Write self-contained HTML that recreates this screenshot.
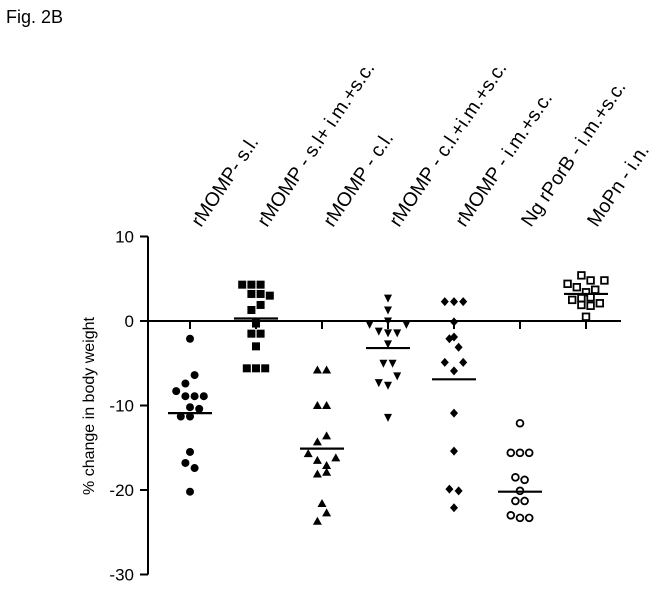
<!DOCTYPE html>
<html><head><meta charset="utf-8"><style>
body{margin:0;background:#fff;font-family:"Liberation Sans",Arial,sans-serif}
svg text{font-family:"Liberation Sans",Arial,sans-serif}
</style></head><body>
<svg id="c" width="665" height="587" xmlns="http://www.w3.org/2000/svg">
<text x="6" y="23" font-size="18">Fig. 2B</text>
</svg>
<script>
const groups=["rMOMP- s.l.","rMOMP - s.l+ i.m.+s.c.","rMOMP - c.l.","rMOMP - c.l.+i.m.+s.c.","rMOMP - i.m.+s.c.","Ng rPorB - i.m.+s.c.","MoPn - i.n."];
const markers=["circle","square","triangle","down","diamond","ocircle","osquare"];
const values=[
[-2.1,-6.4,-7.4,-8.3,-8.9,-8.9,-8.9,-10.2,-10.4,-11.3,-11.3,-15.5,-16.8,-17.4,-20.2],
[4.3,4.3,4.3,3.2,3.2,3.0,1.9,1.3,-0.3,-1.5,-1.5,-3.0,-5.6,-5.6,-5.6],
[-5.8,-5.8,-10,-10,-13.6,-14.3,-15.7,-16.5,-17.1,-16.2,-18.1,-17.9,-21.6,-22.7,-23.7],
[2.7,1.3,-0.4,0,-0.4,-1.2,-1.4,-1.4,-2.7,-5.0,-5.0,-6.5,-7.3,-7.6,-11.4],
[2.3,2.3,2.3,-0.1,-2.1,-1.9,-3.1,-4.9,-4.9,-5.9,-10.9,-15.4,-19.9,-20.1,-22.1],
[-12.1,-15.6,-15.6,-15.6,-18.5,-18.8,-20.1,-21.3,-21.3,-23,-23.3,-23.3],
[5.4,4.4,4.8,4.8,4.0,3.7,3.4,2.5,2.7,2.8,1.9,1.8,2.1,0.5]];
const slots=[
[0,1,-1,-3,-1,1,3,0,2,-2,0,0,-1,1,0],
[-3,-1,1,-1,1,3,1,-1,0,-1,1,0,-2,0,2],
[-1,1,-1,1,1,-1,-3,-1,1,3,-1,1,0,1,-1],
[0,0,-4,0,4,-2,0,2,0,-1,1,2,-2,0,0],
[-2,0,2,0,-1,0,1,-2,2,0,0,0,-1,1,0],
[0,-2,0,2,-1,1,0,-1,1,-2,0,2],
[-1,-4,1,4,-2,2,0,-3,-1,1,-1,1,3,0]];
const means=[-10.9,0.3,-15.1,-3.2,-6.9,-20.2,3.2];
const yTicks=[10,0,-10,-20,-30];
const NS="http://www.w3.org/2000/svg",svg=document.getElementById("c");
const Y=v=>321-v*8.45, X=i=>190+i*66, J=s=>s*4.6;
function mk(t,a,p){const e=document.createElementNS(NS,t);for(const k in a)e.setAttribute(k,a[k]);(p||svg).appendChild(e);return e;}
let ax=mk("line",{x1:148,y1:Y(10),x2:148,y2:Y(-30),stroke:"#000","stroke-width":2});


let zl=mk("line",{x1:148,y1:Y(0),x2:621,y2:Y(0),stroke:"#000","stroke-width":2});


yTicks.forEach(v=>{
 let t=mk("line",{x1:140,y1:Y(v),x2:148,y2:Y(v),stroke:"#000","stroke-width":2});
 
 
 let l=mk("text",{x:134,y:Y(v)+6,"text-anchor":"end","font-size":17});l.textContent=v;
 
 
});
let yt=mk("text",{x:0,y:0,"font-size":16,"text-anchor":"middle",transform:"translate(94,406) rotate(-90)"});yt.textContent="% change in body weight";


function marker(kind,cx,cy){
 const r=4;let e;
 if(kind=="circle")e=mk("circle",{cx,cy,r:4,fill:"#000"});
 else if(kind=="ocircle")e=mk("circle",{cx,cy,r:3.4,fill:"#fff",stroke:"#000","stroke-width":1.8});
 else if(kind=="square")e=mk("rect",{x:cx-r,y:cy-r,width:8,height:8,fill:"#000"});
 else if(kind=="osquare")e=mk("rect",{x:cx-3.3,y:cy-3.3,width:6.6,height:6.6,fill:"#fff",stroke:"#000","stroke-width":1.8});
 else if(kind=="triangle")e=mk("polygon",{points:`${cx},${cy-4.5} ${cx+4.5},${cy+3.5} ${cx-4.5},${cy+3.5}`,fill:"#000"});
 else if(kind=="down")e=mk("polygon",{points:`${cx},${cy+4.5} ${cx+4},${cy-3.5} ${cx-4},${cy-3.5}`,fill:"#000"});
 else e=mk("polygon",{points:`${cx},${cy-4.5} ${cx+4},${cy} ${cx},${cy+4.5} ${cx-4},${cy}`,fill:"#000"});
 return e;
}
groups.forEach((g,i)=>{
 let t=mk("line",{x1:X(i),y1:Y(0),x2:X(i),y2:Y(0)+8,stroke:"#000","stroke-width":2});
 
 
 let lb=mk("text",{x:0,y:0,"font-size":19.5,transform:`translate(${X(i)+11},228) rotate(-56)`});lb.textContent=g;
 
 
 values[i].forEach((v,k)=>{
  let m=marker(markers[i],X(i)+J(slots[i][k]),Y(v));
  
  
 });
 let ml=mk("line",{x1:X(i)-22,y1:Y(means[i]),x2:X(i)+22,y2:Y(means[i]),stroke:"#000","stroke-width":2.2});
 
 
});
</script>
</body></html>
